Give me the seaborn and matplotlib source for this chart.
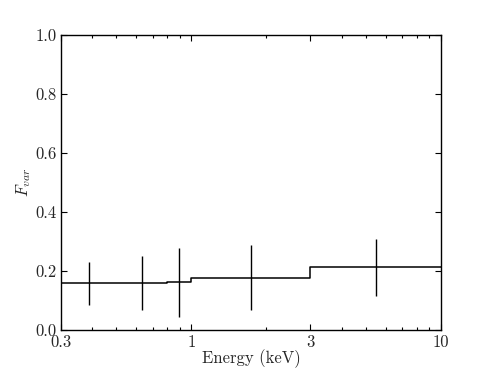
import numpy as np
import pandas as pd
import matplotlib
matplotlib.use("Agg")
import matplotlib.pyplot as plt
import matplotlib.ticker as mticker
import seaborn as sns

# bin edges (keV) and fractional variability per bin
edges = [0.3, 0.5, 0.8, 1.0, 3.0, 10.0]
fvar = [0.158, 0.160, 0.162, 0.177, 0.2125]
fvar_err = [0.072, 0.092, 0.116, 0.110, 0.096]
xticks = [0.3, 1, 3, 10]
xtick_labels = ["0.3", "1", "3", "10"]


def main():
    sns.set_style("ticks")
    plt.rcParams["font.family"] = ["cmr10", "DejaVu Serif"]
    plt.rcParams["mathtext.fontset"] = "cm"
    plt.rcParams["axes.formatter.use_mathtext"] = True

    # geometric bin centres
    centres = [np.sqrt(a * b) for a, b in zip(edges[:-1], edges[1:])]
    df_step = pd.DataFrame({"E": edges, "F": fvar + [fvar[-1]]})

    fig = plt.figure(figsize=(4.91, 3.68), dpi=100)
    ax = fig.add_axes([0.124, 0.103, 0.774, 0.802])

    sns.lineplot(x="E", y="F", data=df_step, drawstyle="steps-post",
                 color="black", linewidth=1.1, ax=ax, estimator=None)
    ax.errorbar(centres, fvar, yerr=fvar_err, fmt="none", ecolor="black",
                elinewidth=1.0, capsize=0)

    ax.set_xscale("log")
    ax.set_xlim(0.3, 10)
    ax.set_ylim(0, 1.0)
    ax.set_xticks(xticks)
    ax.set_xticklabels(xtick_labels)
    ax.xaxis.set_minor_formatter(mticker.NullFormatter())
    ax.set_yticks([0.0, 0.2, 0.4, 0.6, 0.8, 1.0])
    ax.set_yticklabels(["0.0", "0.2", "0.4", "0.6", "0.8", "1.0"])

    ax.tick_params(which="both", direction="in", top=True, right=True,
                   color="black", width=0.8)
    ax.tick_params(which="major", length=4, labelsize=12, pad=3)
    ax.tick_params(which="minor", length=2)
    for s in ax.spines.values():
        s.set_visible(True)
        s.set_color("black")
        s.set_linewidth(1.0)

    ax.set_xlabel("Energy (keV)", fontsize=12, labelpad=0)
    ax.set_ylabel(r"$F_{var}$", fontsize=12, labelpad=2)

    fig.savefig("out.png", dpi=100)


if __name__ == "__main__":
    main()
